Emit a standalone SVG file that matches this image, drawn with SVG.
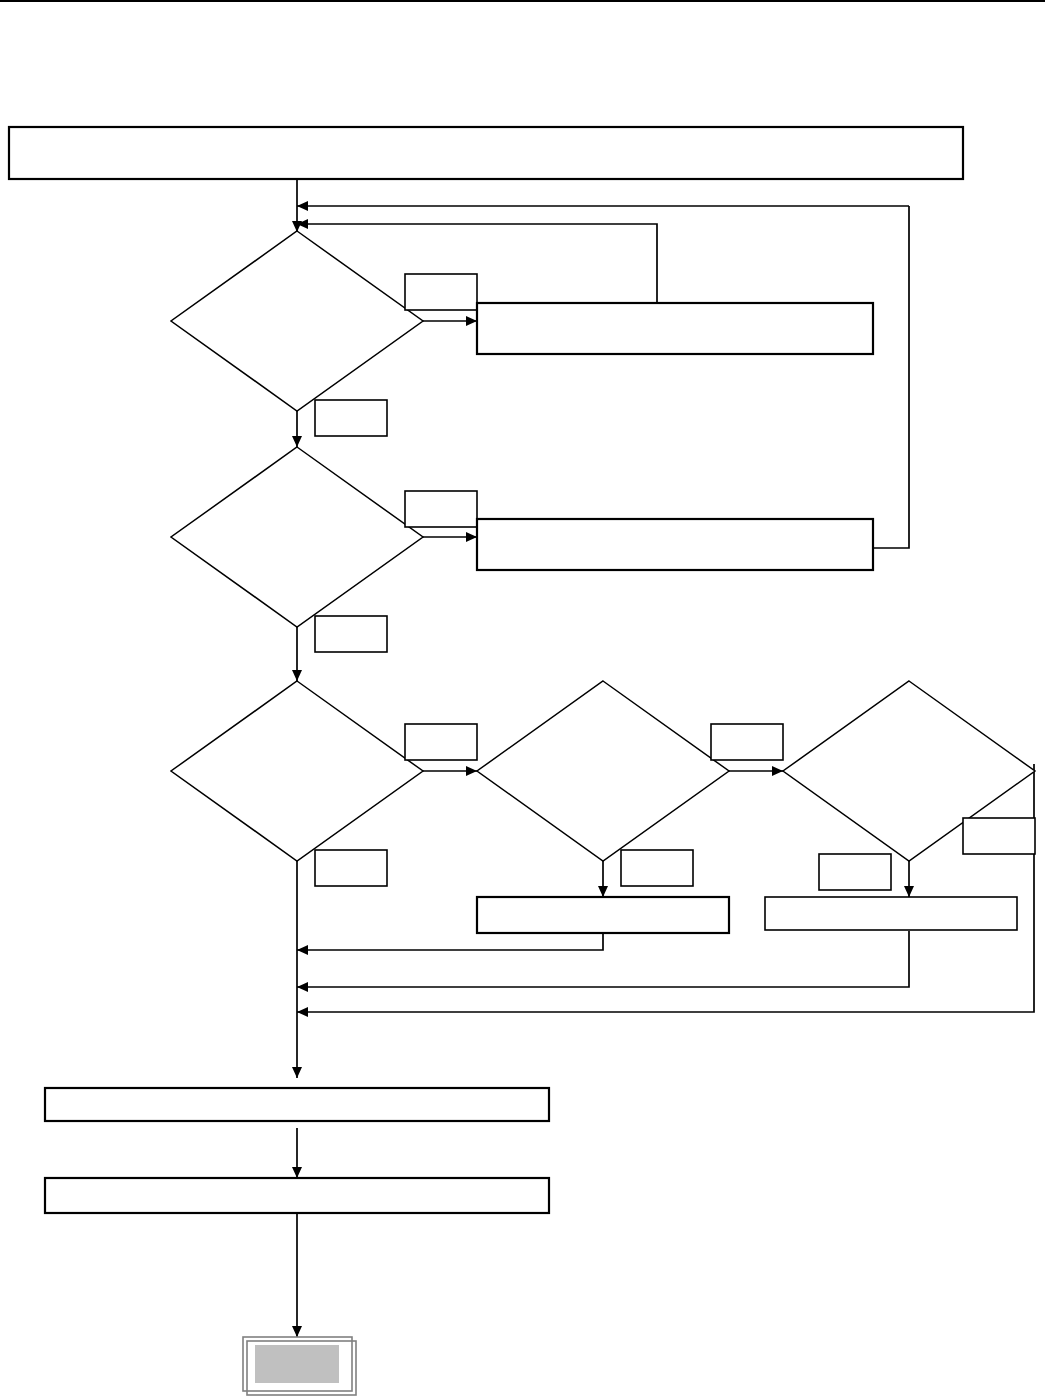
<svg xmlns="http://www.w3.org/2000/svg" width="1045" height="1396" viewBox="0 0 1045 1396">
<defs>
<marker id="ah" markerWidth="12" markerHeight="10" refX="11" refY="5" orient="auto" markerUnits="userSpaceOnUse">
<path d="M0,0 L11,5 L0,10 Z" fill="#000"/>
</marker>
<style>
.proc{fill:#fff;stroke:#000;stroke-width:2.2}
.dec{fill:#fff;stroke:#000;stroke-width:1.5}
.lbl{fill:#fff;stroke:#000;stroke-width:1.6}
.con{fill:none;stroke:#000;stroke-width:1.7}
.arr{fill:none;stroke:#000;stroke-width:1.7;marker-end:url(#ah)}
</style>
</defs>
<rect width="1045" height="1396" fill="#fff"/>
<line x1="0" y1="1" x2="1045" y2="1" stroke="#000" stroke-width="2"/>

<g id="connectors">
<line class="con" x1="297" y1="177" x2="297" y2="224"/>
<path class="arr" d="M297,224 L297,232"/>
<path class="arr" d="M909,206 L297,206"/>
<path class="arr" d="M657,303 L657,224 L297,224"/>
<path class="arr" d="M423,321 L477,321"/>
<path class="arr" d="M297,411 L297,447"/>
<path class="arr" d="M423,537 L477,537"/>
<path class="con" d="M873,548 L909,548 L909,206"/>
<path class="arr" d="M297,627 L297,681"/>
<path class="arr" d="M423,771 L477,771"/>
<path class="arr" d="M729,771 L783,771"/>
<path class="arr" d="M603,861 L603,897"/>
<path class="arr" d="M909,861 L909,897"/>
<path class="arr" d="M603,933 L603,950 L297,950"/>
<path class="arr" d="M909,931 L909,987 L297,987"/>
<path class="arr" d="M1034,764 L1034,1012 L297,1012"/>
<path class="arr" d="M297,861 L297,1078"/>
<path class="arr" d="M297,1128 L297,1178"/>
<path class="arr" d="M297,1213 L297,1337"/>
</g>

<g id="start"><rect class="proc" x="9" y="127" width="954" height="52"/></g>

<g id="d1"><polygon class="dec" points="297,231 423,321 297,411 171,321"/></g>
<g id="l1"><rect class="lbl" x="405" y="274" width="72" height="36"/></g>
<g id="p1"><rect class="proc" x="477" y="303" width="396" height="51"/></g>
<g id="l2"><rect class="lbl" x="315" y="400" width="72" height="36"/></g>

<g id="d2"><polygon class="dec" points="297,447 423,537 297,627 171,537"/></g>
<g id="l3"><rect class="lbl" x="405" y="491" width="72" height="36"/></g>
<g id="p2"><rect class="proc" x="477" y="519" width="396" height="51"/></g>
<g id="l4"><rect class="lbl" x="315" y="616" width="72" height="36"/></g>

<g id="d3"><polygon class="dec" points="297,681 423,771 297,861 171,771"/></g>
<g id="l5"><rect class="lbl" x="405" y="724" width="72" height="36"/></g>
<g id="l6"><rect class="lbl" x="315" y="850" width="72" height="36"/></g>

<g id="d4"><polygon class="dec" points="603,681 729,771 603,861 477,771"/></g>
<g id="l7"><rect class="lbl" x="711" y="724" width="72" height="36"/></g>
<g id="l8"><rect class="lbl" x="621" y="850" width="72" height="36"/></g>
<g id="p3"><rect class="proc" x="477" y="897" width="252" height="36"/></g>

<g id="d5"><polygon class="dec" points="909,681 1035,771 909,861 783,771"/></g>
<g id="l9"><rect class="lbl" x="819" y="854" width="72" height="36"/></g>
<g id="l10"><rect class="lbl" x="963" y="818" width="72" height="36"/></g>
<g id="p4"><rect class="proc" x="765" y="897" width="252" height="33" style="stroke-width:1.6"/></g>

<g id="p5"><rect class="proc" x="45" y="1088" width="504" height="33"/></g>
<g id="p6"><rect class="proc" x="45" y="1178" width="504" height="35"/></g>

<g id="end">
<rect x="243" y="1337" width="109" height="54" fill="none" stroke="#808080" stroke-width="1.6"/>
<rect x="247" y="1341" width="109" height="54" fill="none" stroke="#808080" stroke-width="1.6"/>
<rect x="255" y="1345" width="84" height="38" fill="#c0c0c0"/>
</g>
</svg>
